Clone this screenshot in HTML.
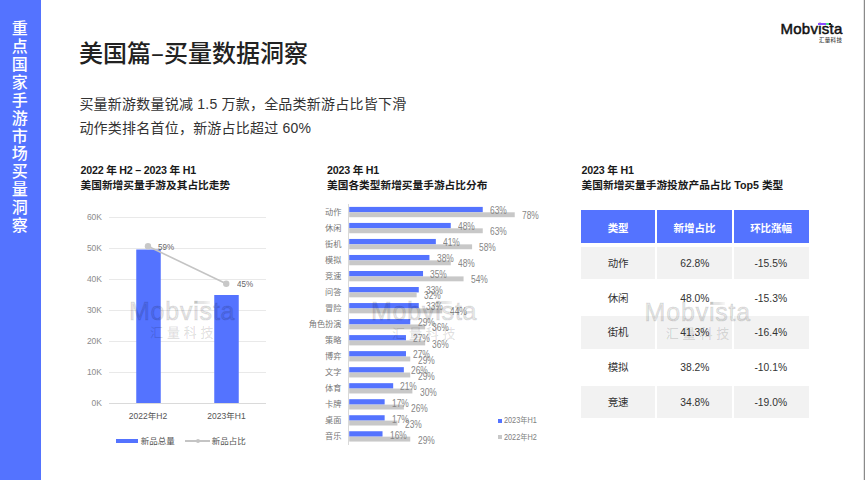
<!DOCTYPE html>
<html><head><meta charset="utf-8">
<style>
*{margin:0;padding:0;box-sizing:border-box}
html,body{width:865px;height:480px;overflow:hidden;background:#fff}
body{position:relative;font-family:"Liberation Sans", "Noto Sans CJK SC", sans-serif;color:#333}
.a{position:absolute;white-space:nowrap}
#side{position:absolute;left:0;top:0;width:41px;height:480px;background:#5473ff}
#sidetxt{position:absolute;left:11.2px;top:20.1px;width:17px;font-size:16px;line-height:17.9px;color:#fff;font-weight:500;text-align:center;white-space:normal;word-break:break-all}
#edge{position:absolute;left:863px;top:0;width:2px;height:480px;background:linear-gradient(90deg,#e4e4e4 0 50%,#8a8a8a 50% 100%)}
#title{left:79px;top:34.5px;font-family:"Liberation Sans","Noto Sans CJK SC",sans-serif;font-size:24px;line-height:34px;font-weight:500;color:#222}
.sub{left:79.4px;font-size:14px;line-height:20px;color:#333;letter-spacing:0.22px}
.hd{font-size:10.7px;line-height:15px;font-weight:700;color:#1a1a1a}
.hd .l1{letter-spacing:-0.22px}
.yl{position:absolute;width:30px;left:72px;text-align:right;font-size:8.5px;line-height:12px;color:#8c8c8c}
.gl{position:absolute;left:108.75px;width:157.5px;height:1.2px;background:#e9e9e9}
.bar{position:absolute;background:#5473ff;z-index:2}
.bb{position:absolute;height:5.4px;background:#5473ff;z-index:2}
.gb{position:absolute;height:4.9px;background:#c8c8c8}
.cl{position:absolute;left:300px;width:41.5px;text-align:right;font-size:8.2px;line-height:12px;color:#777;white-space:nowrap;z-index:3}
.vl{position:absolute;font-size:10px;line-height:12px;color:#868686;white-space:nowrap;transform:scaleX(0.84);transform-origin:0 50%;z-index:3}
.lg{color:#808080;transform:scaleX(0.89);transform-origin:0 50%;width:auto}
.sm{font-size:8.5px;line-height:12px;color:#555;z-index:3}
.wm1{position:absolute;white-space:nowrap;font-family:"Liberation Sans",sans-serif;font-weight:400;font-size:25px;line-height:30px;letter-spacing:0.8px;color:rgba(0,0,0,0.105);-webkit-text-stroke:1.1px rgba(0,0,0,0.105);paint-order:stroke fill;z-index:5}
.wmbar{position:absolute;width:15.5px;height:3px;background:linear-gradient(90deg,rgba(0,0,0,0.1),rgba(0,0,0,0.1) 60%,rgba(0,0,0,0.03));z-index:5}
.wm2{position:absolute;white-space:nowrap;font-size:13px;line-height:16px;letter-spacing:3.8px;color:rgba(0,0,0,0.1);-webkit-text-stroke:0.35px rgba(0,0,0,0.1);z-index:5}
.num{display:inline-block;transform:scaleX(0.92);font-size:11.2px}
.tc{position:absolute;text-align:center;font-size:10.5px;color:#333;z-index:0}
</style></head><body>
<div id="side"><div id="sidetxt">重点国家手游市场买量洞察</div></div>
<div id="edge"></div>

<div class="a" id="logo" style="left:780.5px;top:19.2px;font-family:'Liberation Sans',sans-serif;font-weight:400;-webkit-text-stroke:0.5px #111;font-size:15px;line-height:20px;color:#111;letter-spacing:0.25px">Mobvista</div>
<div class="a" style="left:818px;top:23px;width:7.8px;height:2px;background:#8a4dff"></div>
<div class="a" style="left:825.8px;top:23px;width:3.2px;height:2px;background:#4be38a"></div>
<div class="a" style="left:829px;top:23px;width:2.4px;height:2.2px;background:#111"></div>
<div class="a" style="left:819px;top:36px;font-size:5.5px;line-height:8px;color:#444;font-weight:500;letter-spacing:0.3px">汇量科技</div>

<div class="a" id="title">美国篇<span style="font-family:'Noto Sans CJK SC',sans-serif">–</span>买量数据洞察</div>
<div class="a sub" style="top:94px">买量新游数量锐减 1.5 万款，全品类新游占比皆下滑</div>
<div class="a sub" style="top:118px">动作类排名首位，新游占比超过 60%</div>

<!-- left chart -->
<div class="a hd" style="left:80.5px;top:163px"><span class="l1">2022 年 H2 – 2023 年 H1</span><br>美国新增买量手游及其占比走势</div>
<div class="gl" style="top:402.5px;background:#dadada"></div>
<div class="yl" style="top:397px">0K</div>
<div class="gl" style="top:371.5px;"></div>
<div class="yl" style="top:366px">10K</div>
<div class="gl" style="top:340.5px;"></div>
<div class="yl" style="top:335px">20K</div>
<div class="gl" style="top:309.5px;"></div>
<div class="yl" style="top:304px">30K</div>
<div class="gl" style="top:278.5px;"></div>
<div class="yl" style="top:273px">40K</div>
<div class="gl" style="top:247.5px;"></div>
<div class="yl" style="top:242px">50K</div>
<div class="gl" style="top:216.5px;"></div>
<div class="yl" style="top:211px">60K</div>
<svg class="a" style="left:0;top:0;z-index:2" width="865" height="480"><rect x="136.25" y="249.5" width="24.5" height="153.5" fill="#5473ff"/><rect x="214.25" y="295" width="24.5" height="108" fill="#5473ff"/><line x1="148" y1="246.25" x2="226.25" y2="283.75" stroke="#c4c4c4" stroke-width="1.6"/><circle cx="148" cy="246.25" r="3.2" fill="#c8c8c8"/><circle cx="226.25" cy="283.75" r="3.2" fill="#c8c8c8"/></svg>
<div class="a vl" style="left:158.25px;top:240.75px;color:#666;font-size:9.6px">59%</div>
<div class="a vl" style="left:236.75px;top:277.75px;color:#666;font-size:9.6px">45%</div>
<div class="a sm" style="left:128px;top:410px;width:40px;text-align:center">2022年H2</div>
<div class="a sm" style="left:206.5px;top:410px;width:40px;text-align:center">2023年H1</div>
<div class="bar" style="left:116px;top:438.5px;width:22.3px;height:4.5px"></div>
<div class="a sm" style="left:140.7px;top:434.7px">新品总量</div>
<div class="a" style="left:185px;top:439.8px;width:25px;height:2px;background:#c4c4c4"></div>
<div class="a" style="left:195.5px;top:438.5px;width:4.6px;height:4.6px;border-radius:50%;background:#c4c4c4"></div>
<div class="a sm" style="left:211.7px;top:434.7px">新品占比</div>

<!-- middle chart -->
<div class="a hd" style="left:327px;top:163px"><span class="l1">2023 年 H1</span><br>美国各类型新增买量手游占比分布</div>
<div class="a" style="left:348.2px;top:204px;width:1px;height:240.5px;background:#d9d9d9"></div>
<svg class="a" style="left:0;top:0;z-index:2" width="865" height="480"><rect x="349.2" y="206.90" width="133.55" height="5.4" fill="#5473ff"/><rect x="349.2" y="212.30" width="165.54" height="4.9" fill="#c8c8c8"/><rect x="349.2" y="222.93" width="101.56" height="5.4" fill="#5473ff"/><rect x="349.2" y="228.33" width="133.55" height="4.9" fill="#c8c8c8"/><rect x="349.2" y="238.95" width="86.64" height="5.4" fill="#5473ff"/><rect x="349.2" y="244.35" width="122.89" height="4.9" fill="#c8c8c8"/><rect x="349.2" y="254.97" width="80.24" height="5.4" fill="#5473ff"/><rect x="349.2" y="260.38" width="101.56" height="4.9" fill="#c8c8c8"/><rect x="349.2" y="271.00" width="73.84" height="5.4" fill="#5473ff"/><rect x="349.2" y="276.40" width="114.36" height="4.9" fill="#c8c8c8"/><rect x="349.2" y="287.02" width="69.58" height="5.4" fill="#5473ff"/><rect x="349.2" y="292.42" width="67.44" height="4.9" fill="#c8c8c8"/><rect x="349.2" y="303.05" width="69.58" height="5.4" fill="#5473ff"/><rect x="349.2" y="308.45" width="93.03" height="4.9" fill="#c8c8c8"/><rect x="349.2" y="319.07" width="61.05" height="5.4" fill="#5473ff"/><rect x="349.2" y="324.47" width="75.97" height="4.9" fill="#c8c8c8"/><rect x="349.2" y="335.10" width="56.78" height="5.4" fill="#5473ff"/><rect x="349.2" y="340.50" width="75.97" height="4.9" fill="#c8c8c8"/><rect x="349.2" y="351.12" width="56.78" height="5.4" fill="#5473ff"/><rect x="349.2" y="356.52" width="61.05" height="4.9" fill="#c8c8c8"/><rect x="349.2" y="367.15" width="54.65" height="5.4" fill="#5473ff"/><rect x="349.2" y="372.55" width="61.05" height="4.9" fill="#c8c8c8"/><rect x="349.2" y="383.17" width="43.98" height="5.4" fill="#5473ff"/><rect x="349.2" y="388.57" width="63.18" height="4.9" fill="#c8c8c8"/><rect x="349.2" y="399.20" width="35.45" height="5.4" fill="#5473ff"/><rect x="349.2" y="404.60" width="54.65" height="4.9" fill="#c8c8c8"/><rect x="349.2" y="415.23" width="35.45" height="5.4" fill="#5473ff"/><rect x="349.2" y="420.62" width="48.25" height="4.9" fill="#c8c8c8"/><rect x="349.2" y="431.25" width="33.32" height="5.4" fill="#5473ff"/><rect x="349.2" y="436.65" width="61.05" height="4.9" fill="#c8c8c8"/></svg>
<div class="cl" style="top:206.80px">动作</div>
<div class="vl" style="left:490.05px;top:205.20px">63%</div>
<div class="vl" style="left:522.04px;top:210.30px">78%</div>
<div class="cl" style="top:222.83px">休闲</div>
<div class="vl" style="left:458.06px;top:221.23px">48%</div>
<div class="vl" style="left:490.05px;top:226.33px">63%</div>
<div class="cl" style="top:238.85px">街机</div>
<div class="vl" style="left:443.14px;top:237.25px">41%</div>
<div class="vl" style="left:479.39px;top:242.35px">58%</div>
<div class="cl" style="top:254.88px">模拟</div>
<div class="vl" style="left:436.74px;top:253.27px">38%</div>
<div class="vl" style="left:458.06px;top:258.38px">48%</div>
<div class="cl" style="top:270.90px">竞速</div>
<div class="vl" style="left:430.34px;top:269.30px">35%</div>
<div class="vl" style="left:470.86px;top:274.40px">54%</div>
<div class="cl" style="top:286.92px">问答</div>
<div class="vl" style="left:426.08px;top:285.32px">33%</div>
<div class="vl" style="left:423.94px;top:290.42px">32%</div>
<div class="cl" style="top:302.95px">冒险</div>
<div class="vl" style="left:426.08px;top:301.35px">33%</div>
<div class="vl" style="left:449.53px;top:306.45px">44%</div>
<div class="cl" style="top:318.97px">角色扮演</div>
<div class="vl" style="left:417.55px;top:317.38px">29%</div>
<div class="vl" style="left:432.47px;top:322.47px">36%</div>
<div class="cl" style="top:335.00px">策略</div>
<div class="vl" style="left:413.28px;top:333.40px">27%</div>
<div class="vl" style="left:432.47px;top:338.50px">36%</div>
<div class="cl" style="top:351.02px">博弈</div>
<div class="vl" style="left:413.28px;top:349.43px">27%</div>
<div class="vl" style="left:417.55px;top:354.52px">29%</div>
<div class="cl" style="top:367.05px">文字</div>
<div class="vl" style="left:411.15px;top:365.45px">26%</div>
<div class="vl" style="left:417.55px;top:370.55px">29%</div>
<div class="cl" style="top:383.07px">体育</div>
<div class="vl" style="left:400.48px;top:381.47px">21%</div>
<div class="vl" style="left:419.68px;top:386.57px">30%</div>
<div class="cl" style="top:399.10px">卡牌</div>
<div class="vl" style="left:391.95px;top:397.50px">17%</div>
<div class="vl" style="left:411.15px;top:402.60px">26%</div>
<div class="cl" style="top:415.12px">桌面</div>
<div class="vl" style="left:391.95px;top:413.53px">17%</div>
<div class="vl" style="left:404.75px;top:418.62px">23%</div>
<div class="cl" style="top:431.15px">音乐</div>
<div class="vl" style="left:389.82px;top:429.55px">16%</div>
<div class="vl" style="left:417.55px;top:434.65px">29%</div>
<div class="a" style="left:497.6px;top:418.8px;width:4.2px;height:4.2px;background:#5473ff"></div>
<div class="a cl lg" style="left:503.7px;top:415px;text-align:left">2023年H1</div>
<div class="a" style="left:497.6px;top:435.2px;width:4.2px;height:4.2px;background:#c8c8c8"></div>
<div class="a cl lg" style="left:503.7px;top:432.4px;text-align:left">2022年H2</div>

<!-- right table -->
<div class="a hd" style="left:581.6px;top:163px"><span class="l1">2023 年 H1</span><br>美国新增买量手游投放产品占比 Top5 类型</div>
<div class="tc" style="left:581px;top:210.3px;width:74.25px;height:32.45px;background:#5473ff;color:#fff;font-weight:700;line-height:32.45px;padding-top:2px">类型</div>
<div class="tc" style="left:657px;top:210.3px;width:75.00px;height:32.45px;background:#5473ff;color:#fff;font-weight:700;line-height:32.45px;padding-top:2px">新增占比</div>
<div class="tc" style="left:733.7px;top:210.3px;width:74.90px;height:32.45px;background:#5473ff;color:#fff;font-weight:700;line-height:32.45px;padding-top:2px">环比涨幅</div>
<div class="tc" style="left:581px;top:247.00px;width:74.25px;height:32.3px;background:#f2f2f2;line-height:32.3px">动作</div>
<div class="tc" style="left:657px;top:247.00px;width:75.00px;height:32.3px;background:#f2f2f2;line-height:32.3px"><span class="num">62.8%</span></div>
<div class="tc" style="left:733.7px;top:247.00px;width:74.90px;height:32.3px;background:#f2f2f2;line-height:32.3px"><span class="num">-15.5%</span></div>
<div class="tc" style="left:581px;top:281.65px;width:74.25px;height:32.3px;background:transparent;line-height:32.3px">休闲</div>
<div class="tc" style="left:657px;top:281.65px;width:75.00px;height:32.3px;background:transparent;line-height:32.3px"><span class="num">48.0%</span></div>
<div class="tc" style="left:733.7px;top:281.65px;width:74.90px;height:32.3px;background:transparent;line-height:32.3px"><span class="num">-15.3%</span></div>
<div class="tc" style="left:581px;top:316.30px;width:74.25px;height:32.3px;background:#f2f2f2;line-height:32.3px">街机</div>
<div class="tc" style="left:657px;top:316.30px;width:75.00px;height:32.3px;background:#f2f2f2;line-height:32.3px"><span class="num">41.3%</span></div>
<div class="tc" style="left:733.7px;top:316.30px;width:74.90px;height:32.3px;background:#f2f2f2;line-height:32.3px"><span class="num">-16.4%</span></div>
<div class="tc" style="left:581px;top:350.95px;width:74.25px;height:32.3px;background:transparent;line-height:32.3px">模拟</div>
<div class="tc" style="left:657px;top:350.95px;width:75.00px;height:32.3px;background:transparent;line-height:32.3px"><span class="num">38.2%</span></div>
<div class="tc" style="left:733.7px;top:350.95px;width:74.90px;height:32.3px;background:transparent;line-height:32.3px"><span class="num">-10.1%</span></div>
<div class="tc" style="left:581px;top:385.60px;width:74.25px;height:32.3px;background:#f2f2f2;line-height:32.3px">竞速</div>
<div class="tc" style="left:657px;top:385.60px;width:75.00px;height:32.3px;background:#f2f2f2;line-height:32.3px"><span class="num">34.8%</span></div>
<div class="tc" style="left:733.7px;top:385.60px;width:74.90px;height:32.3px;background:#f2f2f2;line-height:32.3px"><span class="num">-19.0%</span></div>
<div class="wm1" style="left:128.9px;top:295.5px">Mobvista</div><div class="wmbar" style="left:194.1px;top:300.7px"></div><div class="wm2" style="left:150.1px;top:325.2px">汇量科技</div>
<div class="wm1" style="left:370.9px;top:296.0px">Mobvista</div><div class="wmbar" style="left:436.1px;top:301.2px"></div><div class="wm2" style="left:392.1px;top:325.7px">汇量科技</div>
<div class="wm1" style="left:644.6px;top:296.5px">Mobvista</div><div class="wmbar" style="left:709.8px;top:301.7px"></div><div class="wm2" style="left:665.8px;top:326.2px">汇量科技</div>
</body></html>
